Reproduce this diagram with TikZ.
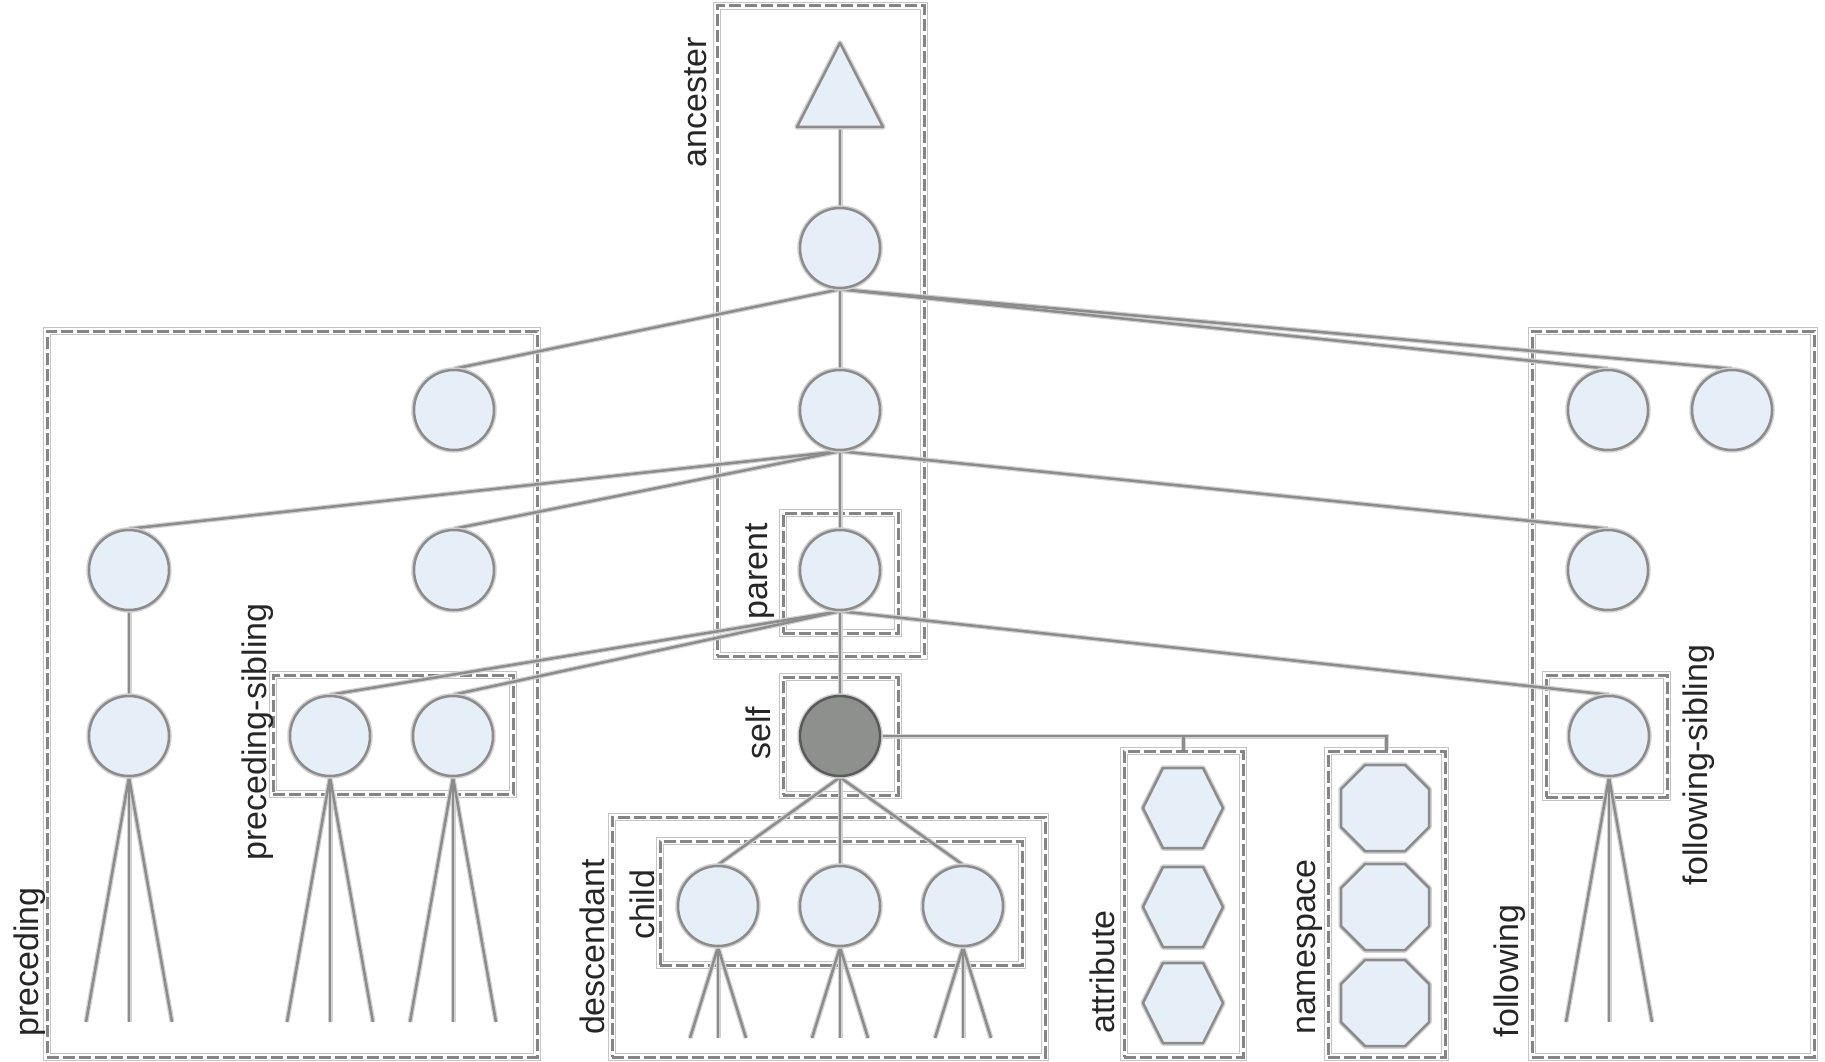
\documentclass[tikz,border=0pt]{standalone}
\usepackage{fontspec}
\setmainfont{Liberation Sans}
\usetikzlibrary{calc,fit}
\pgfdeclarelayer{boxes}
\pgfdeclarelayer{links}
\pgfsetlayers{boxes,links,main}

\definecolor{nodefill}{HTML}{E6EEF8}
\definecolor{edgegray}{HTML}{8C8C8C}
\definecolor{halogray}{HTML}{D2D2D2}
\definecolor{selffill}{HTML}{8E908E}
\definecolor{boxgray}{HTML}{858585}
\definecolor{boxhalo}{HTML}{C4C4C4}
\definecolor{labelgray}{HTML}{262626}

\tikzset{
  treenode/.style={circle, minimum size=80pt, inner sep=0pt, fill=nodefill,
    draw=edgegray, line width=2.5pt,
    preaction={draw=halogray, line width=5.5pt}},
  selfnode/.style={treenode, fill=selffill, draw=edgegray!65!black},
  leafshape/.style={fill=nodefill, draw=edgegray, line width=2.5pt, line join=round,
    preaction={draw=halogray, line width=5.5pt, line join=round}},
  linkhalo/.style={draw=halogray, line width=5pt},
  linkcore/.style={draw=edgegray, line width=2.5pt},
  axisbox/.style={rectangle, inner sep=0pt, draw=boxgray, line width=3pt,
    dash pattern=on 12pt off 4pt,
    preaction={draw=boxhalo, solid, line width=8pt},
    preaction={draw=white, solid, line width=6pt}},
  axislabel/.style={rotate=90, anchor=base, text=labelgray,
    font=\fontsize{34}{40}\selectfont},
}

% every parent-child connector, drawn once as halo and once as core
\newcommand\treelinks[1]{%
  \draw[#1] (tribase) -- (a1.north);
  \draw[#1] (a1.south) -- (L2.north);
  \draw[#1] (a1.south) -- (C2.north);
  \draw[#1] (a1.south) -- (R2a.north);
  \draw[#1] (a1.south) -- (R2b.north);
  \draw[#1] (C2.south) -- (L3.north);
  \draw[#1] (C2.south) -- (L3b.north);
  \draw[#1] (C2.south) -- (par.north);
  \draw[#1] (C2.south) -- (R3.north);
  \draw[#1] (L3.south) -- (L4.north);
  \draw[#1] (par.south) -- (PS1.north);
  \draw[#1] (par.south) -- (PS2.north);
  \draw[#1] (par.south) -- (self.north);
  \draw[#1] (par.south) -- (FS.north);
  \draw[#1] (self.south) -- (ch1.north);
  \draw[#1] (self.south) -- (ch2.north);
  \draw[#1] (self.south) -- (ch3.north);
  \draw[#1] (self.east) -- (self.east -| nsbox.north) -- (nsbox.north);
  \draw[#1] (self.east -| attrbox.north) -- (attrbox.north);
  \foreach \n in {L4,PS1,PS2,FS,ch1,ch2,ch3}{
    \draw[#1] (\n.south) -- (\n-fl);
    \draw[#1] (\n.south) -- (\n-fm);
    \draw[#1] (\n.south) -- (\n-fr);
  }%
}

\begin{document}
\begin{tikzpicture}[x=1pt,y=-1pt]
\useasboundingbox (0,0) rectangle (1825,1062);

% ---- tree nodes ----
\node[treenode] (a1)  at (840,248) {};
\node[treenode] (L2)  at (454,410) {};
\node[treenode] (C2)  at (840,410) {};
\node[treenode] (R2a) at (1608,410) {};
\node[treenode] (R2b) at (1732,410) {};
\node[treenode] (L3)  at (129,570) {};
\node[treenode] (L3b) at (454,570) {};
\node[treenode] (par) at (840,570) {};
\node[treenode] (R3)  at (1608,570) {};
\node[treenode] (L4)  at (129,736) {};
\node[treenode] (PS1) at (330,736) {};
\node[treenode] (PS2) at (453,736) {};
\node[selfnode] (self) at (840,736) {};
\node[treenode] (FS)  at (1609,736) {};
\node[treenode] (ch1) at (718,906) {};
\node[treenode] (ch2) at (840,906) {};
\node[treenode] (ch3) at (963,906) {};

% ancestors beyond the top node
\draw[leafshape] (840,43) -- (883,127) -- (797,127) -- cycle;
\coordinate (tribase) at (840,127);

% attribute nodes (hexagons) and namespace nodes (octagons)
\foreach \y in {808,907,1003}{
  \draw[leafshape] (1183,\y) ++(-40,0) -- ++(20,-40) -- ++(40,0) -- ++(20,40)
    -- ++(-20,40) -- ++(-40,0) -- cycle;
  \draw[leafshape] (1385,\y) ++(-20,-43) -- ++(40,0) -- ++(24,24) -- ++(0,38)
    -- ++(-24,24) -- ++(-40,0) -- ++(-24,-24) -- ++(0,-38) -- cycle;
}

% free ends of the subtree fans
\foreach \n in {L4,PS1,PS2,FS}{
  \coordinate (\n-fl) at ($(\n)+(-43,286)$);
  \coordinate (\n-fm) at ($(\n)+(0,286)$);
  \coordinate (\n-fr) at ($(\n)+(43,286)$);
}
\foreach \n in {ch1,ch2,ch3}{
  \coordinate (\n-fl) at ($(\n)+(-28,132)$);
  \coordinate (\n-fm) at ($(\n)+(0,132)$);
  \coordinate (\n-fr) at ($(\n)+(28,132)$);
}

% ---- axis regions ----
\begin{pgfonlayer}{boxes}
  \node[axisbox, fit={(717,6)(924,656)}]     (ancbox)   {};
  \node[axisbox, fit={(783,513)(898,633)}]   (parbox)   {};
  \node[axisbox, fit={(783,677)(898,795)}]   (selfbox)  {};
  \node[axisbox, fit={(47,331)(537,1057)}]   (precbox)  {};
  \node[axisbox, fit={(273,675)(513,794)}]   (psibbox)  {};
  \node[axisbox, fit={(612,817)(1045,1057)}] (descbox)  {};
  \node[axisbox, fit={(660,841)(1022,965)}]  (childbox) {};
  \node[axisbox, fit={(1124,751)(1243,1057)}] (attrbox) {};
  \node[axisbox, fit={(1328,751)(1445,1057)}] (nsbox)   {};
  \node[axisbox, fit={(1532,331)(1814,1057)}] (follbox) {};
  \node[axisbox, fit={(1546,675)(1667,797)}] (fsibbox)  {};
\end{pgfonlayer}

% ---- connectors ----
\begin{pgfonlayer}{links}
  \treelinks{linkhalo}
  \treelinks{linkcore}
\end{pgfonlayer}

% ---- axis names ----
\node[axislabel] (lanc)  at (706,102)  {ancester};
\node[axislabel] (lpar)  at (767,571)  {parent};
\node[axislabel] (lself) at (770,733)  {self};
\node[axislabel] (lpsib) at (266,732)  {preceding-sibling};
\node[axislabel] (lprec) at (38,962)   {preceding};
\node[axislabel] (ldesc) at (604,947)  {descendant};
\node[axislabel] (lchild) at (654,905) {child};
\node[axislabel] (lattr) at (1114,972) {attribute};
\node[axislabel] (lns)   at (1315,947) {namespace};
\node[axislabel] (lfoll) at (1518,971) {following};
\node[axislabel] (lfsib) at (1707,765) {following-sibling};
\end{tikzpicture}
\end{document}
